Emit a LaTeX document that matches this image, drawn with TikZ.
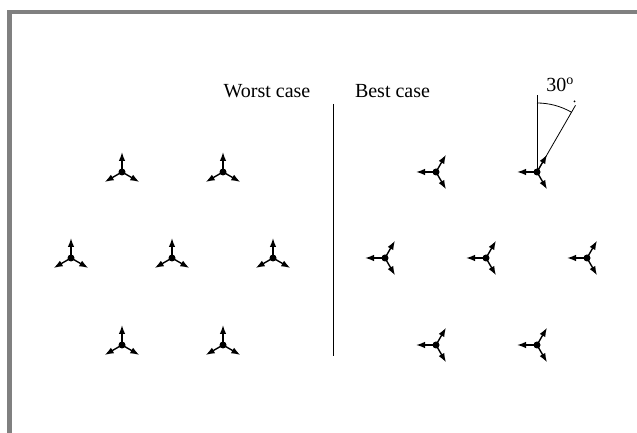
\documentclass[tikz,border=0pt]{standalone}
\usepackage{fontspec}
\setmainfont{Liberation Serif}
\usetikzlibrary{arrows.meta, calc}

\begin{document}
\begin{tikzpicture}[x=1pt, y=1pt,
			hub/.style = {circle, fill=black, inner sep=0pt, minimum size=7pt},
			leg/.style = {line width=1.4pt, -{Latex[length=9pt, width=6.5pt]}},
			caption/.style = {anchor=base, inner sep=0pt, font=\fontsize{20}{24}\selectfont},
			thin line/.style = {line width=0.8pt}]
			\useasboundingbox (0,0) rectangle (637,433);
			% frame
			\draw[line width=4.6pt, color=black!50] (9.5,0) -- (9.5,421) -- (637,421);
			% worst case
			\foreach \x/\y [count=\i] in {122/261, 223/261, 71/175, 172/175, 273/175, 122/88, 223/88} {
				\node[hub] (w\i) at (\x,\y) {};
				\foreach \a in {90, 210, 330}
					\draw[leg] (w\i.center) -- ++(\a:20);
			}
			% best case
			\foreach \x/\y [count=\i] in {436/261, 537/261, 385/175, 486/175, 587/175, 436/88, 537/88} {
				\node[hub] (b\i) at (\x,\y) {};
				\foreach \a in {60, 180, 300}
					\draw[leg] (b\i.center) -- ++(\a:20);
			}
			% divider and captions
			\coordinate (top) at (333,329);
			\coordinate (bottom) at (333,77);
			\draw[thin line] (top) -- (bottom);
			\node[caption] (worst) at (267,335) {Worst case};
			\node[caption] (best) at (392.5,335) {Best case};
			% angle mark
			\coordinate (up) at ($(b2.center)+(90:77)$);
			\coordinate (slant) at ($(b2.center)+(60:77)$);
			\draw[thin line] (b2.center) -- (up);
			\draw[thin line] (b2.center) -- (slant);
			\draw[thin line] ($(b2.center)+(90:69)$) arc[start angle=90, end angle=60, radius=69];
			\fill ($(b2.center)+(62:80)$) circle[radius=1pt];
			\node[caption] (angle) at (560,341) {30\textsuperscript{o}};
		\end{tikzpicture}
\end{document}
